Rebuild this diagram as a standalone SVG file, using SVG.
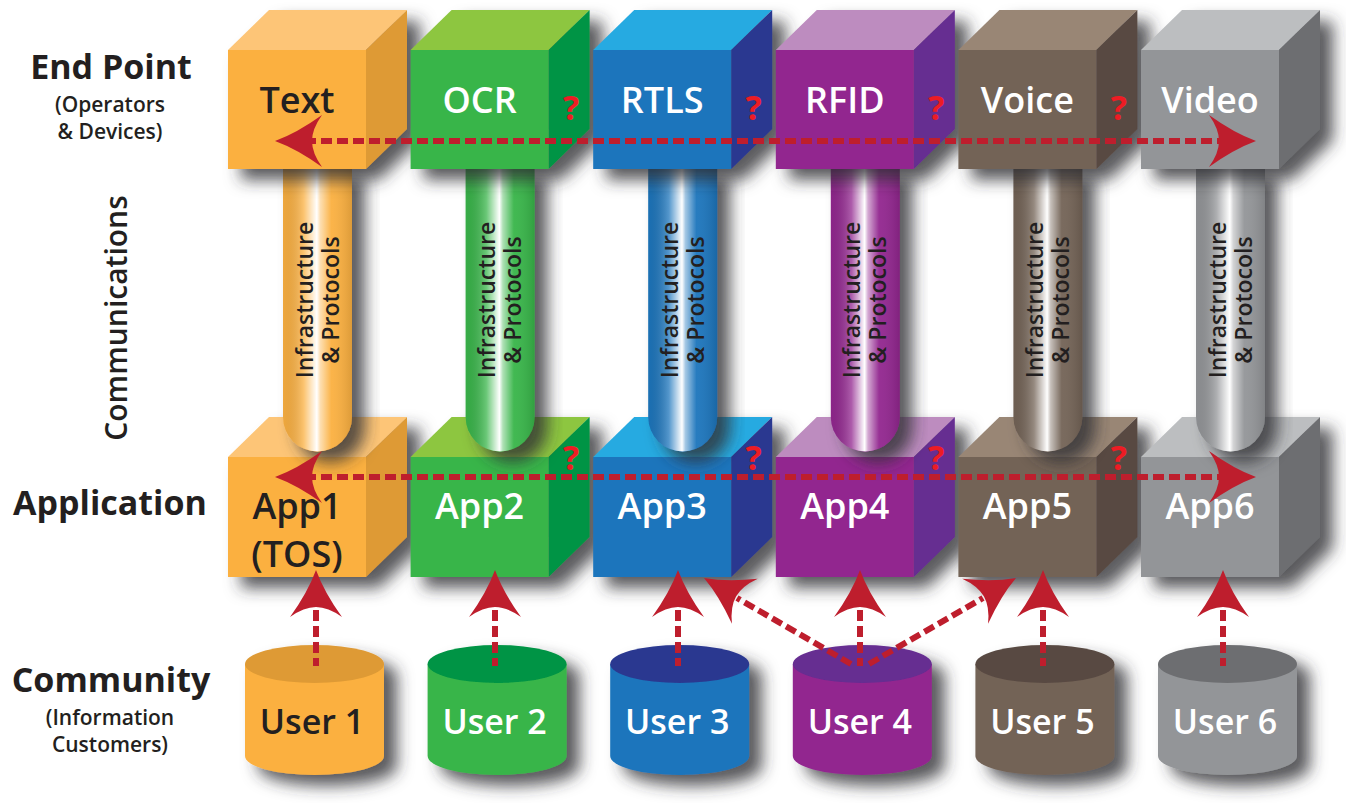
<svg xmlns="http://www.w3.org/2000/svg" xmlns:xlink="http://www.w3.org/1999/xlink" width="1346" height="803" viewBox="0 0 1346 803">
  <defs>
    <filter id="sh" x="-30%" y="-30%" width="170%" height="170%">
      <feDropShadow dx="13" dy="11" stdDeviation="8" flood-color="#333335" flood-opacity="0.8"/>
    </filter>
    <!-- glossy highlight laid over each pipe -->
    <linearGradient id="gloss" x1="0" y1="0" x2="1" y2="0">
      <stop offset="0" stop-color="#000" stop-opacity="0.05"/>
      <stop offset="0.3" stop-color="#fff" stop-opacity="0.25"/>
      <stop offset="0.44" stop-color="#fff" stop-opacity="0.8"/>
      <stop offset="0.49" stop-color="#fff" stop-opacity="1"/>
      <stop offset="0.54" stop-color="#fff" stop-opacity="0.6"/>
      <stop offset="0.7" stop-color="#fff" stop-opacity="0.05"/>
      <stop offset="1" stop-color="#000" stop-opacity="0.12"/>
    </linearGradient>
    <!-- arrowhead pointing +x, tip at origin -->
    <path id="ah" d="M0,0 Q-22,-8 -47,-26 Q-37,-12 -37,0 Q-37,12 -47,26 Q-22,8 0,0 Z" fill="#be1e2d"/>
    <style>
      .lbl { font-family: "Open Sans", "Liberation Sans", sans-serif; }
      .hdr { font-size: 34px; font-weight: 700; fill: #231f20; text-anchor: middle; }
      .sub { font-size: 21px; font-weight: 600; fill: #231f20; text-anchor: middle; }
      .cube-t { font-size: 36px; font-weight: 600; fill: #fff; text-anchor: middle; }
      .user-t { font-size: 34px; font-weight: 600; fill: #fff; text-anchor: middle; }
      .dark { fill: #231f20; }
      .q { font-size: 34px; font-weight: 700; fill: #ed1c24; text-anchor: middle; }
      .pipe-t { font-size: 23px; font-weight: 600; fill: #231f20; text-anchor: middle; }
      .dash { stroke: #be1e2d; stroke-width: 6; stroke-dasharray: 11 5; fill: none; }
    </style>
  </defs>

  <rect width="1346" height="803" fill="#fff"/>

  <!-- layer titles -->
  <g id="titles" class="lbl">
    <text class="hdr" x="111" y="79">End Point</text>
    <text class="sub" x="110" y="112">(Operators</text>
    <text class="sub" x="110" y="139">&amp; Devices)</text>
    <text class="lbl" transform="translate(127,318) rotate(-90)" text-anchor="middle" font-size="30" font-weight="600" fill="#231f20">Communications</text>
    <text class="hdr" x="110" y="515">Application</text>
    <text class="hdr" x="111" y="692">Community</text>
    <text class="sub" x="110" y="725">(Information</text>
    <text class="sub" x="110" y="752">Customers)</text>
  </g>

  <!-- application cubes -->
  <g id="app1" transform="translate(228,0)">
    <g filter="url(#sh)">
      <polygon points="0,457 41,417 179,417 138,457" fill="#fdc577"/>
      <polygon points="138,457 179,417 179,537 138,577" fill="#de9a35"/>
      <rect x="0" y="457" width="138" height="120" fill="#fbb040"/>
    </g>
    <text class="lbl cube-t dark" x="69" y="519">App1</text>
    <text class="lbl cube-t dark" x="69" y="567">(TOS)</text>
  </g>
  <g id="app2" transform="translate(410.6,0)">
    <g filter="url(#sh)">
      <polygon points="0,457 41,417 179,417 138,457" fill="#8dc63f"/>
      <polygon points="138,457 179,417 179,537 138,577" fill="#009444"/>
      <rect x="0" y="457" width="138" height="120" fill="#39b54a"/>
    </g>
    <text class="lbl cube-t" x="69" y="519">App2</text>
    <text class="lbl q" x="160.5" y="470">?</text>
  </g>
  <g id="app3" transform="translate(593.2,0)">
    <g filter="url(#sh)">
      <polygon points="0,457 41,417 179,417 138,457" fill="#27aae1"/>
      <polygon points="138,457 179,417 179,537 138,577" fill="#2b3990"/>
      <rect x="0" y="457" width="138" height="120" fill="#1c75bc"/>
    </g>
    <text class="lbl cube-t" x="69" y="519">App3</text>
    <text class="lbl q" x="160.5" y="470">?</text>
  </g>
  <g id="app4" transform="translate(775.8,0)">
    <g filter="url(#sh)">
      <polygon points="0,457 41,417 179,417 138,457" fill="#bd8cbf"/>
      <polygon points="138,457 179,417 179,537 138,577" fill="#662d91"/>
      <rect x="0" y="457" width="138" height="120" fill="#92278f"/>
    </g>
    <text class="lbl cube-t" x="69" y="519">App4</text>
    <text class="lbl q" x="160.5" y="470">?</text>
  </g>
  <g id="app5" transform="translate(958.4,0)">
    <g filter="url(#sh)">
      <polygon points="0,457 41,417 179,417 138,457" fill="#998675"/>
      <polygon points="138,457 179,417 179,537 138,577" fill="#594a42"/>
      <rect x="0" y="457" width="138" height="120" fill="#736357"/>
    </g>
    <text class="lbl cube-t" x="69" y="519">App5</text>
    <text class="lbl q" x="160.5" y="470">?</text>
  </g>
  <g id="app6" transform="translate(1141,0)">
    <g filter="url(#sh)">
      <polygon points="0,457 41,417 179,417 138,457" fill="#bcbec0"/>
      <polygon points="138,457 179,417 179,537 138,577" fill="#6d6e71"/>
      <rect x="0" y="457" width="138" height="120" fill="#939598"/>
    </g>
    <text class="lbl cube-t" x="69" y="519">App6</text>
  </g>

  <!-- infrastructure pipes between end points and applications -->
  <g id="pipes" class="lbl">
    <g transform="translate(317.5,0)">
      <g filter="url(#sh)"><path d="M-34.5,165 V417 A34.5,34.5 0 0 0 34.5,417 V165 Z" fill="#fbb040"/></g>
      <path d="M-34.5,165 V417 A34.5,34.5 0 0 0 34.5,417 V165 Z" fill="url(#gloss)"/>
      <text class="pipe-t" transform="translate(-5,300) rotate(-90)">Infrastructure</text>
      <text class="pipe-t" transform="translate(21,300) rotate(-90)">&amp; Protocols</text>
    </g>
    <g transform="translate(500.1,0)">
      <g filter="url(#sh)"><path d="M-34.5,165 V417 A34.5,34.5 0 0 0 34.5,417 V165 Z" fill="#39b54a"/></g>
      <path d="M-34.5,165 V417 A34.5,34.5 0 0 0 34.5,417 V165 Z" fill="url(#gloss)"/>
      <text class="pipe-t" transform="translate(-5,300) rotate(-90)">Infrastructure</text>
      <text class="pipe-t" transform="translate(21,300) rotate(-90)">&amp; Protocols</text>
    </g>
    <g transform="translate(682.7,0)">
      <g filter="url(#sh)"><path d="M-34.5,165 V417 A34.5,34.5 0 0 0 34.5,417 V165 Z" fill="#1c75bc"/></g>
      <path d="M-34.5,165 V417 A34.5,34.5 0 0 0 34.5,417 V165 Z" fill="url(#gloss)"/>
      <text class="pipe-t" transform="translate(-5,300) rotate(-90)">Infrastructure</text>
      <text class="pipe-t" transform="translate(21,300) rotate(-90)">&amp; Protocols</text>
    </g>
    <g transform="translate(865.3,0)">
      <g filter="url(#sh)"><path d="M-34.5,165 V417 A34.5,34.5 0 0 0 34.5,417 V165 Z" fill="#92278f"/></g>
      <path d="M-34.5,165 V417 A34.5,34.5 0 0 0 34.5,417 V165 Z" fill="url(#gloss)"/>
      <text class="pipe-t" transform="translate(-5,300) rotate(-90)">Infrastructure</text>
      <text class="pipe-t" transform="translate(21,300) rotate(-90)">&amp; Protocols</text>
    </g>
    <g transform="translate(1047.9,0)">
      <g filter="url(#sh)"><path d="M-34.5,165 V417 A34.5,34.5 0 0 0 34.5,417 V165 Z" fill="#736357"/></g>
      <path d="M-34.5,165 V417 A34.5,34.5 0 0 0 34.5,417 V165 Z" fill="url(#gloss)"/>
      <text class="pipe-t" transform="translate(-5,300) rotate(-90)">Infrastructure</text>
      <text class="pipe-t" transform="translate(21,300) rotate(-90)">&amp; Protocols</text>
    </g>
    <g transform="translate(1230.5,0)">
      <g filter="url(#sh)"><path d="M-34.5,165 V417 A34.5,34.5 0 0 0 34.5,417 V165 Z" fill="#939598"/></g>
      <path d="M-34.5,165 V417 A34.5,34.5 0 0 0 34.5,417 V165 Z" fill="url(#gloss)"/>
      <text class="pipe-t" transform="translate(-5,300) rotate(-90)">Infrastructure</text>
      <text class="pipe-t" transform="translate(21,300) rotate(-90)">&amp; Protocols</text>
    </g>
  </g>

  <!-- end point cubes -->
  <g id="ep-text" transform="translate(228,0)">
    <g filter="url(#sh)">
      <polygon points="0,50 41,10 179,10 138,50" fill="#fdc577"/>
      <polygon points="138,50 179,10 179,129 138,169" fill="#de9a35"/>
      <rect x="0" y="50" width="138" height="119" fill="#fbb040"/>
    </g>
    <text class="lbl cube-t dark" x="69" y="113">Text</text>
  </g>
  <g id="ep-ocr" transform="translate(410.6,0)">
    <g filter="url(#sh)">
      <polygon points="0,50 41,10 179,10 138,50" fill="#8dc63f"/>
      <polygon points="138,50 179,10 179,129 138,169" fill="#009444"/>
      <rect x="0" y="50" width="138" height="119" fill="#39b54a"/>
    </g>
    <text class="lbl cube-t" x="69" y="113">OCR</text>
    <text class="lbl q" x="160.5" y="120">?</text>
  </g>
  <g id="ep-rtls" transform="translate(593.2,0)">
    <g filter="url(#sh)">
      <polygon points="0,50 41,10 179,10 138,50" fill="#27aae1"/>
      <polygon points="138,50 179,10 179,129 138,169" fill="#2b3990"/>
      <rect x="0" y="50" width="138" height="119" fill="#1c75bc"/>
    </g>
    <text class="lbl cube-t" x="69" y="113">RTLS</text>
    <text class="lbl q" x="160.5" y="120">?</text>
  </g>
  <g id="ep-rfid" transform="translate(775.8,0)">
    <g filter="url(#sh)">
      <polygon points="0,50 41,10 179,10 138,50" fill="#bd8cbf"/>
      <polygon points="138,50 179,10 179,129 138,169" fill="#662d91"/>
      <rect x="0" y="50" width="138" height="119" fill="#92278f"/>
    </g>
    <text class="lbl cube-t" x="69" y="113">RFID</text>
    <text class="lbl q" x="160.5" y="120">?</text>
  </g>
  <g id="ep-voice" transform="translate(958.4,0)">
    <g filter="url(#sh)">
      <polygon points="0,50 41,10 179,10 138,50" fill="#998675"/>
      <polygon points="138,50 179,10 179,129 138,169" fill="#594a42"/>
      <rect x="0" y="50" width="138" height="119" fill="#736357"/>
    </g>
    <text class="lbl cube-t" x="69" y="113">Voice</text>
    <text class="lbl q" x="160.5" y="120">?</text>
  </g>
  <g id="ep-video" transform="translate(1141,0)">
    <g filter="url(#sh)">
      <polygon points="0,50 41,10 179,10 138,50" fill="#bcbec0"/>
      <polygon points="138,50 179,10 179,129 138,169" fill="#6d6e71"/>
      <rect x="0" y="50" width="138" height="119" fill="#939598"/>
    </g>
    <text class="lbl cube-t" x="69" y="113">Video</text>
  </g>

  <!-- user cylinders -->
  <g id="user1" transform="translate(245,0)">
    <g filter="url(#sh)">
      <path d="M0,664 V756 A69.5,19 0 0 0 139,756 V664 Z" fill="#fbb040"/>
      <ellipse cx="69.5" cy="664" rx="69.5" ry="19" fill="#de9a35"/>
    </g>
    <text class="lbl user-t dark" x="67" y="734">User 1</text>
  </g>
  <g id="user2" transform="translate(427.6,0)">
    <g filter="url(#sh)">
      <path d="M0,664 V756 A69.5,19 0 0 0 139,756 V664 Z" fill="#39b54a"/>
      <ellipse cx="69.5" cy="664" rx="69.5" ry="19" fill="#009444"/>
    </g>
    <text class="lbl user-t" x="67" y="734">User 2</text>
  </g>
  <g id="user3" transform="translate(610.2,0)">
    <g filter="url(#sh)">
      <path d="M0,664 V756 A69.5,19 0 0 0 139,756 V664 Z" fill="#1c75bc"/>
      <ellipse cx="69.5" cy="664" rx="69.5" ry="19" fill="#2b3990"/>
    </g>
    <text class="lbl user-t" x="67" y="734">User 3</text>
  </g>
  <g id="user4" transform="translate(792.8,0)">
    <g filter="url(#sh)">
      <path d="M0,664 V756 A69.5,19 0 0 0 139,756 V664 Z" fill="#92278f"/>
      <ellipse cx="69.5" cy="664" rx="69.5" ry="19" fill="#662d91"/>
    </g>
    <text class="lbl user-t" x="67" y="734">User 4</text>
  </g>
  <g id="user5" transform="translate(975.4,0)">
    <g filter="url(#sh)">
      <path d="M0,664 V756 A69.5,19 0 0 0 139,756 V664 Z" fill="#736357"/>
      <ellipse cx="69.5" cy="664" rx="69.5" ry="19" fill="#594a42"/>
    </g>
    <text class="lbl user-t" x="67" y="734">User 5</text>
  </g>
  <g id="user6" transform="translate(1158,0)">
    <g filter="url(#sh)">
      <path d="M0,664 V756 A69.5,19 0 0 0 139,756 V664 Z" fill="#939598"/>
      <ellipse cx="69.5" cy="664" rx="69.5" ry="19" fill="#6d6e71"/>
    </g>
    <text class="lbl user-t" x="67" y="734">User 6</text>
  </g>

  <!-- red dashed connectors -->
  <g id="connectors">
    <!-- end point row, both directions -->
    <line class="dash" x1="305" y1="141" x2="1226" y2="141"/>
    <use xlink:href="#ah" href="#ah" transform="translate(275,141) rotate(180)"/>
    <use xlink:href="#ah" href="#ah" transform="translate(1256,141)"/>
    <!-- application row, both directions -->
    <line class="dash" x1="305" y1="477" x2="1226" y2="477"/>
    <use xlink:href="#ah" href="#ah" transform="translate(275,477) rotate(180)"/>
    <use xlink:href="#ah" href="#ah" transform="translate(1256,477)"/>
    <!-- users up to applications -->
    <line class="dash" x1="316" y1="610" x2="316" y2="666"/>
    <use xlink:href="#ah" href="#ah" transform="translate(316,570) rotate(-90)"/>
    <line class="dash" x1="495" y1="610" x2="495" y2="666"/>
    <use xlink:href="#ah" href="#ah" transform="translate(495,570) rotate(-90)"/>
    <line class="dash" x1="678" y1="610" x2="678" y2="666"/>
    <use xlink:href="#ah" href="#ah" transform="translate(678,570) rotate(-90)"/>
    <line class="dash" x1="860" y1="610" x2="860" y2="666"/>
    <use xlink:href="#ah" href="#ah" transform="translate(860,570) rotate(-90)"/>
    <line class="dash" x1="1043" y1="610" x2="1043" y2="666"/>
    <use xlink:href="#ah" href="#ah" transform="translate(1043,570) rotate(-90)"/>
    <line class="dash" x1="1223" y1="610" x2="1223" y2="666"/>
    <use xlink:href="#ah" href="#ah" transform="translate(1223,570) rotate(-90)"/>
    <!-- User 4 also reaches App3 and App5 -->
    <line class="dash" x1="851" y1="664" x2="737" y2="598"/>
    <use xlink:href="#ah" href="#ah" transform="translate(704,578) rotate(-150.3)"/>
    <line class="dash" x1="869" y1="664" x2="983" y2="598"/>
    <use xlink:href="#ah" href="#ah" transform="translate(1016,578) rotate(-29.7)"/>
  </g>
</svg>
